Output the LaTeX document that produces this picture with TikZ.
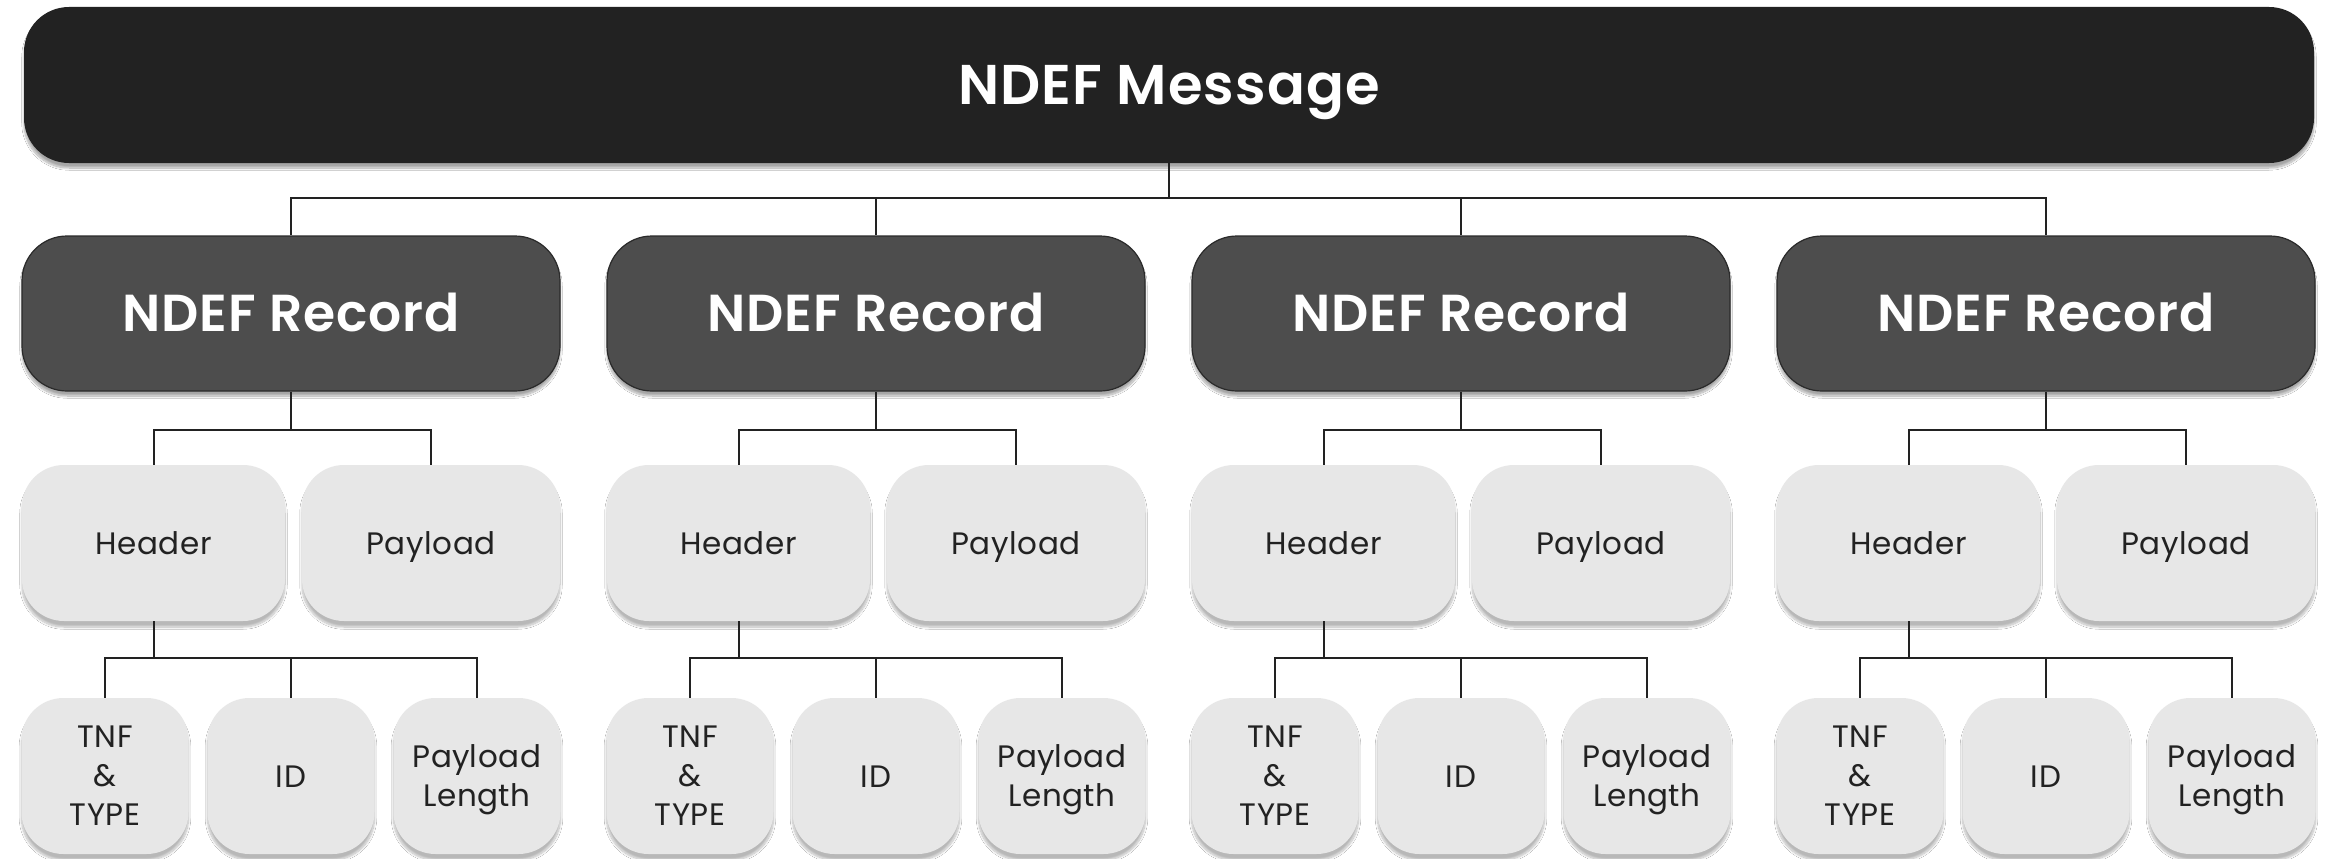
\documentclass[tikz,border=0pt]{standalone}
\usepackage{fontspec}
\setmainfont{Poppins}[BoldFont={Poppins SemiBold}]
\usetikzlibrary{shadows.blur}
\definecolor{msgfill}{HTML}{222222}
\definecolor{recfill}{HTML}{4D4D4D}
\definecolor{recline}{HTML}{2A2A2A}
\definecolor{leaffill}{HTML}{E7E7E7}
\definecolor{ink}{HTML}{222222}
\begin{document}
\begin{tikzpicture}[x=1pt,y=-1pt,
  msgbox/.style={fill=msgfill, rounded corners=45pt, minimum width=2290pt, minimum height=156pt,
    text=white, font=\fontsize{56}{60}\selectfont\bfseries\addfontfeature{LetterSpace=2}, inner sep=0pt, text height=39pt, text depth=0pt,
    blur shadow={shadow blur steps=12, shadow xshift=0pt, shadow yshift=-5pt, shadow opacity=35}},
  recbox/.style={fill=recfill, draw=recline, line width=1.2pt, rounded corners=45pt, minimum width=538pt, minimum height=155pt,
    text=white, font=\fontsize{52}{56}\selectfont\bfseries\addfontfeature{LetterSpace=1.7}, inner sep=0pt, text height=36pt, text depth=0pt,
    blur shadow={shadow blur steps=12, shadow xshift=0pt, shadow yshift=-5pt, shadow opacity=35}},
  leafbox/.style={fill=leaffill, rounded corners=42pt, minimum height=156pt,
    text=ink, font=\fontsize{31}{39}\selectfont\addfontfeature{LetterSpace=2}, align=center, inner sep=0pt,
    blur shadow={shadow blur steps=12, shadow xshift=0pt, shadow yshift=-6pt, shadow opacity=28}},
  single/.style={text height=22pt, text depth=0pt},
  conn/.style={draw=ink, line width=2pt}
]
\useasboundingbox (0,0) rectangle (2329,859);
\fill[white] (0,0) rectangle (2329,859);

\node[msgbox] (msg) at (1169,85) {NDEF Message};
\path (msg.south) ++(0,35) coordinate (mbus);

\foreach \k/\cx in {1/291,2/876,3/1461,4/2046}{
  \node[recbox] (r\k) at (\cx,313.5) {NDEF Record};
  \node[leafbox, single, minimum width=263pt] (h\k) at (\cx-137.5,543) {Header};
  \node[leafbox, single, minimum width=258pt] (p\k) at (\cx+140,543) {Payload};
  \node[leafbox, minimum width=167pt] (t\k) at (\cx-186,776) {TNF\\\&\\TYPE};
  \node[leafbox, single, minimum width=167pt] (i\k) at (\cx,776) {ID};
  \node[leafbox, minimum width=167pt] (l\k) at (\cx+186,776) {Pa\smash{y}load\\Len\smash{g}th};
  \draw[conn] (msg.south) -- (mbus) -| (r\k.north);
  \path (r\k.south) ++(0,38) coordinate (rb\k);
  \draw[conn] (r\k.south) -- (rb\k) -| (h\k.north);
  \draw[conn] (rb\k) -| (p\k.north);
  \path (h\k.south) ++(0,37) coordinate (hb\k);
  \draw[conn] (h\k.south) -- (hb\k) -| (t\k.north);
  \draw[conn] (hb\k) -| (i\k.north);
  \draw[conn] (hb\k) -| (l\k.north);
}
\end{tikzpicture}
\end{document}
